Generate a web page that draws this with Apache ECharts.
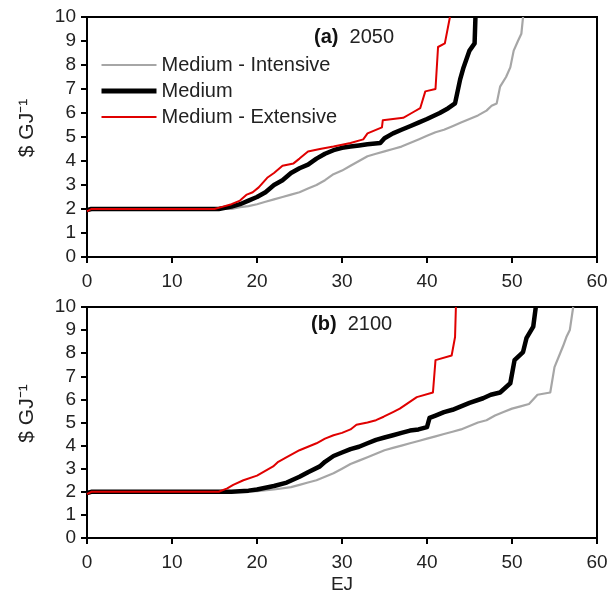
<!DOCTYPE html>
<html>
<head>
<meta charset="utf-8">
<script src="https://cdn.jsdelivr.net/npm/echarts@6/dist/echarts.min.js"></script>
<style>html,body{margin:0;padding:0;background:#fff}#c{width:616px;height:604px}</style>
</head>
<body>
<div id="c"></div>
<script>
var seriesNames = ['Medium - Intensive', 'Medium', 'Medium - Extensive'];
var xTicks = [0, 10, 20, 30, 40, 50, 60];
var yTicks = [0, 1, 2, 3, 4, 5, 6, 7, 8, 9, 10];

// Panel (a) 2050: [EJ, $/GJ]
var a2050Intensive = [[0,1.95],[0.5,2],[17,2],[18,2.08],[19,2.12],[20,2.2],[21,2.3],[22,2.4],[23,2.5],[24,2.6],[25,2.7],[26,2.85],[27,3.0],[28,3.2],[29,3.45],[30,3.6],[31,3.8],[32,4.0],[33,4.2],[34,4.3],[35,4.4],[36,4.5],[37,4.6],[38,4.75],[39,4.9],[40,5.05],[41,5.2],[42,5.3],[43,5.45],[44,5.6],[45,5.75],[46,5.9],[47,6.1],[47.6,6.3],[48.2,6.4],[48.6,7.1],[49.3,7.5],[49.8,7.9],[50.2,8.6],[50.7,9.0],[51.1,9.3],[51.3,10]];
var a2050Medium = [[0,1.95],[0.5,2],[15.5,2],[17,2.1],[18,2.2],[19,2.35],[20,2.5],[21,2.7],[22,3.0],[23,3.2],[24,3.5],[25,3.7],[26,3.85],[27,4.1],[28,4.3],[29,4.45],[30,4.55],[31,4.6],[32,4.65],[33,4.7],[34.5,4.75],[35,4.95],[36,5.15],[37,5.3],[38,5.45],[39,5.6],[40,5.75],[41.5,6.0],[42.5,6.2],[43.3,6.4],[43.9,7.4],[44.3,7.9],[45,8.6],[45.6,8.9],[45.7,10]];
var a2050Extensive = [[0,1.9],[0.5,2.0],[15,2.0],[16,2.1],[17,2.2],[18,2.35],[18.8,2.6],[19.5,2.7],[20.2,2.9],[21.2,3.3],[22,3.5],[23,3.8],[24.3,3.9],[25,4.1],[26,4.4],[27.4,4.5],[29,4.6],[31,4.75],[32.5,4.9],[33,5.15],[34.7,5.4],[34.8,5.7],[37.2,5.8],[38.2,6.0],[39.2,6.2],[39.8,6.9],[41,7.0],[41.3,8.75],[42.1,8.9],[42.7,10]];

// Panel (b) 2100: [EJ, $/GJ]
var b2100Intensive = [[0,1.95],[0.5,2],[18,2],[20,2.03],[22,2.1],[24,2.2],[25,2.3],[26,2.4],[27,2.5],[28,2.65],[29,2.8],[30,3.0],[31,3.2],[32,3.35],[33,3.5],[34,3.65],[35,3.8],[36,3.9],[37,4.0],[38,4.1],[39,4.2],[40,4.3],[41,4.4],[42,4.5],[43,4.6],[44,4.7],[45,4.85],[46,5.0],[47,5.1],[48,5.3],[49,5.45],[50,5.6],[51,5.7],[52,5.8],[53,6.2],[54.5,6.3],[55,7.4],[56,8.3],[56.4,8.7],[56.8,9.0],[57.2,10]];
var b2100Medium = [[0,1.95],[0.5,2],[17,2],[19,2.05],[20,2.1],[22,2.25],[23.5,2.4],[25,2.65],[26,2.85],[27.4,3.1],[28,3.3],[29,3.55],[30,3.7],[31,3.85],[32,3.95],[33,4.1],[34,4.25],[35,4.35],[36,4.45],[37,4.55],[38,4.65],[39,4.7],[40,4.8],[40.3,5.2],[41,5.3],[42,5.45],[43,5.55],[44,5.7],[45,5.85],[46.6,6.05],[47.5,6.2],[48.6,6.3],[49.8,6.7],[50.3,7.7],[51.3,8.05],[51.7,8.65],[52.5,9.15],[52.8,10]];
var b2100Extensive = [[0,1.9],[0.5,2],[15.5,2],[16.5,2.15],[17.2,2.3],[18.4,2.5],[20,2.7],[21.9,3.1],[22.5,3.3],[23.5,3.5],[25,3.8],[26,3.95],[27,4.1],[28,4.3],[29,4.45],[30,4.55],[31,4.7],[31.7,4.9],[33,5.0],[34,5.1],[34.9,5.25],[36,5.45],[36.8,5.6],[37.8,5.85],[38.8,6.1],[40.7,6.3],[41,7.7],[42.9,7.9],[43.3,8.7],[43.4,10]];

var FONT = '"Liberation Sans", Arial, sans-serif';
var colors = ['#a6a6a6', '#000000', '#e00000'];
var widths = [2.2, 4.5, 2];

var chart = echarts.init(document.getElementById('c'), null, {renderer: 'canvas'});

function xAxisCfg(gi, withName) {
  return {
    type: 'value', gridIndex: gi, min: xTicks[0], max: xTicks[xTicks.length - 1], interval: 10,
    axisLine: {show: true, lineStyle: {color: '#000', width: 2}},
    axisTick: {show: true, inside: false, length: 6, lineStyle: {color: '#000', width: 2}},
    axisLabel: {fontSize: 19, color: '#222', fontFamily: FONT, margin: 15},
    splitLine: {show: false},
    name: withName ? 'EJ' : '',
    nameLocation: 'middle', nameGap: 37,
    nameTextStyle: {fontSize: 19, color: '#222', fontFamily: FONT}
  };
}
function yAxisCfg(gi) {
  return {
    type: 'value', gridIndex: gi, min: yTicks[0], max: yTicks[yTicks.length - 1], interval: 1,
    axisLine: {show: true, lineStyle: {color: '#000', width: 2}},
    axisTick: {show: true, inside: false, length: 6, lineStyle: {color: '#000', width: 2}},
    axisLabel: {fontSize: 19, color: '#222', fontFamily: FONT, margin: 11},
    splitLine: {show: false},
    name: '$ GJ\u207B\u00B9',
    nameLocation: 'middle', nameGap: 49, nameRotate: 90,
    nameTextStyle: {fontSize: 21, color: '#222', fontFamily: FONT, padding: [0, 0, 0, 18]}
  };
}
function mk(name, data, idx, gi) {
  return {
    type: 'line', name: name, data: data, xAxisIndex: gi, yAxisIndex: gi,
    showSymbol: false, symbol: 'none', clip: true,
    lineStyle: {color: colors[idx], width: widths[idx], join: 'round'},
    itemStyle: {color: colors[idx]},
    silent: true, animation: false
  };
}
function panelTitle(tag, year, top, left) {
  return {
    text: '{b|' + tag + '}  ' + year, left: left, top: top,
    textStyle: {fontSize: 20, fontWeight: 'normal', color: '#222', fontFamily: FONT,
      rich: {b: {fontSize: 20, fontWeight: 'bold', color: '#111', fontFamily: FONT}}}
  };
}

chart.setOption({
  animation: false,
  backgroundColor: '#fff',
  textStyle: {fontFamily: FONT},
  title: [panelTitle('(a)', '2050', 22, 309), panelTitle('(b)', '2100', 309, 306)],
  legend: {
    data: seriesNames.map(function (n, i) {
      return {name: n, lineStyle: {color: colors[i], width: i === 1 ? 5 : 2.2}};
    }),
    orient: 'vertical', left: 99, top: 55, padding: 0,
    itemWidth: 55, itemHeight: 14, itemGap: 6,
    itemStyle: {opacity: 0},
    textStyle: {fontSize: 20, color: '#222', fontFamily: FONT, padding: [0, 0, 0, 0]},
    selectedMode: false
  },
  grid: [
    {left: 87, top: 17, width: 510, height: 240, show: true, borderColor: '#000', borderWidth: 2},
    {left: 87, top: 307, width: 510, height: 231, show: true, borderColor: '#000', borderWidth: 2}
  ],
  xAxis: [xAxisCfg(0, false), xAxisCfg(1, true)],
  yAxis: [yAxisCfg(0), yAxisCfg(1)],
  series: [
    mk(seriesNames[0], a2050Intensive, 0, 0),
    mk(seriesNames[1], a2050Medium, 1, 0),
    mk(seriesNames[2], a2050Extensive, 2, 0),
    mk(seriesNames[0], b2100Intensive, 0, 1),
    mk(seriesNames[1], b2100Medium, 1, 1),
    mk(seriesNames[2], b2100Extensive, 2, 1)
  ]
});
</script>
</body>
</html>
